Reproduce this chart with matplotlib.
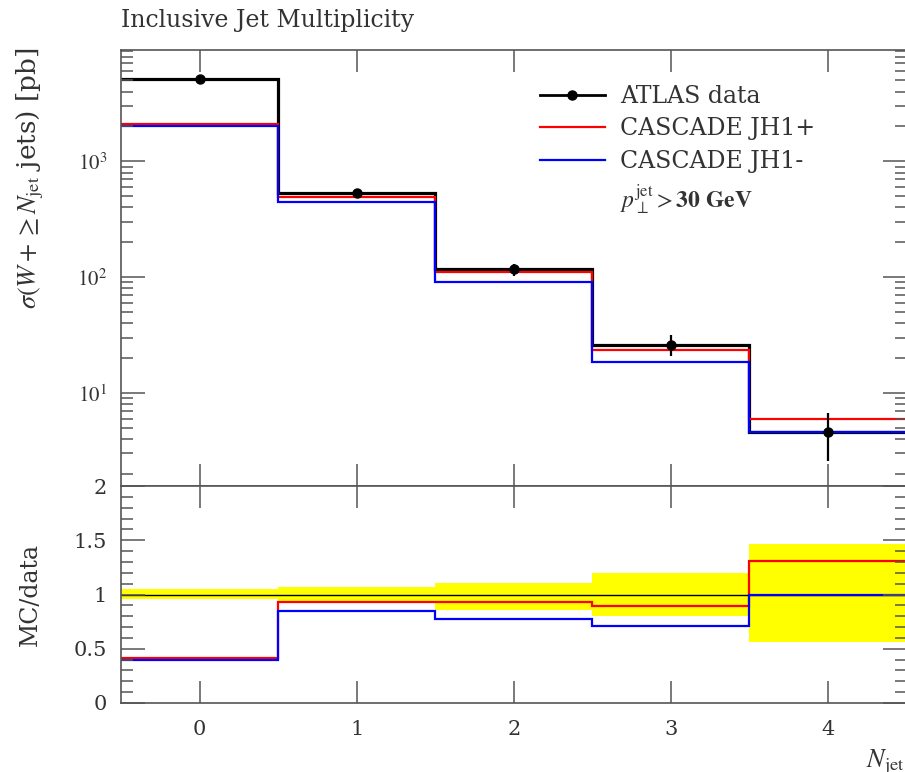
import numpy as np
import matplotlib
matplotlib.use('Agg')
import matplotlib.pyplot as plt
from matplotlib.lines import Line2D
from matplotlib.ticker import FixedLocator, MultipleLocator, LogLocator, NullFormatter

plt.rcParams['font.family'] = ['DejaVu Serif']
plt.rcParams['mathtext.fontset'] = 'stix'

# Inclusive W + >= N jets cross sections [pb]
n_jet = [0, 1, 2, 3, 4]
bin_edges = [-0.5, 0.5, 1.5, 2.5, 3.5, 4.5]
atlas_data = np.array([5130.0, 528.0, 118.0, 26.1, 4.59])
err_up = np.array([0.055, 0.07, 0.11, 0.20, 0.47])     # relative
err_down = np.array([0.045, 0.07, 0.14, 0.20, 0.435])  # relative
jh1_plus = np.array([2110.0, 490.0, 110.0, 23.4, 5.99])
jh1_minus = np.array([2010.0, 447.0, 91.0, 18.6, 4.59])

grey = '#555555'
txt = '#333333'
W, H = 905, 772
fig = plt.figure(figsize=(W / 100, H / 100), dpi=100)
left, right = 121 / W, 906.5 / W
ax = fig.add_axes([left, 1 - 486 / H, right - left, (486 - 50) / H])
rax = fig.add_axes([left, 1 - 703 / H, right - left, (703 - 486) / H])

# main panel
ax.stairs(atlas_data, bin_edges, baseline=None, color='black', lw=2.3)
ax.stairs(jh1_plus, bin_edges, baseline=None, color='#ff0000', lw=1.6)
ax.stairs(jh1_minus, bin_edges, baseline=None, color='#0000ff', lw=1.6)
ax.errorbar(n_jet, atlas_data,
            yerr=[atlas_data * err_down, atlas_data * err_up],
            fmt='o', color='black', ms=6.5, elinewidth=1.6, capsize=0)
ax.set_yscale('log')
ax.set_ylim(1.57, 9140)
ax.set_xlim(-0.5, 4.5)
ax.yaxis.set_major_locator(FixedLocator([10, 100, 1000]))
ax.set_yticklabels([r'$10^{1}$', r'$10^{2}$', r'$10^{3}$'])
ax.yaxis.set_minor_locator(LogLocator(base=10, subs=np.arange(2, 10)))
ax.yaxis.set_minor_formatter(NullFormatter())
ax.set_xticks(n_jet)
ax.set_xticklabels([])

handles = [Line2D([], [], color='black', lw=2.0, marker='o', ms=6.5),
           Line2D([], [], color='#ff0000', lw=1.6),
           Line2D([], [], color='#0000ff', lw=1.6),
           Line2D([], [], lw=0)]
labels = ['ATLAS data', 'CASCADE JH1+', 'CASCADE JH1-',
          r'$p_\perp^{\rm jet} > \mathbf{30\ GeV}$']
leg = ax.legend(handles, labels, loc='upper left', bbox_to_anchor=(0.533, 0.92),
                frameon=False, fontsize=17, handlelength=2.75, handletextpad=0.65,
                labelspacing=0.4, borderaxespad=0, borderpad=0)
for t in leg.get_texts():
    t.set_color(txt)

# ratio panel
band_lo = 1 - err_down
band_hi = 1 + err_up
rax.stairs(band_hi, bin_edges, baseline=band_lo, fill=True, color='#ffff00', lw=0)
rax.stairs(atlas_data / atlas_data, bin_edges, baseline=None, color='black', lw=1.0)
rax.stairs(jh1_plus / atlas_data, bin_edges, baseline=None, color='#ff0000', lw=1.6)
rax.stairs(jh1_minus / atlas_data, bin_edges, baseline=None, color='#0000ff', lw=1.6)
rax.set_xlim(-0.5, 4.5)
rax.set_ylim(0, 2)
rax.yaxis.set_major_locator(FixedLocator([0, 0.5, 1, 1.5, 2]))
rax.set_yticklabels(['0', '0.5', '1', '1.5', '2'])
rax.yaxis.set_minor_locator(MultipleLocator(0.1))
rax.set_xticks(n_jet)
rax.set_xticklabels([str(n) for n in n_jet])

for a in (ax, rax):
    for s in a.spines.values():
        s.set_color(grey)
        s.set_linewidth(1.2)
    a.tick_params(which='both', direction='in', top=True, right=True,
                  color=grey, width=1.1, labelsize=15, labelcolor=txt)
    a.tick_params(axis='y', which='major', length=17, pad=10)
    a.tick_params(axis='y', which='minor', length=8.5)
    a.tick_params(axis='x', which='major', length=16, pad=12)
    a.tick_params(axis='x', which='minor', length=0)

fig.text(121 / W, 1 - 27 / H, 'Inclusive Jet Multiplicity', fontsize=17,
         color=txt, ha='left', va='baseline')
fig.text(30 / W, 1 - 178 / H, r'$\sigma(W+\geq N_{\rm jet}$ jets) [pb]',
         fontsize=19, color=txt, rotation=90, ha='center', va='center')
fig.text(30 / W, 1 - 595 / H, 'MC/data', fontsize=17, color=txt,
         rotation=90, ha='center', va='center')
fig.text(866 / W, 1 - 762 / H, r'$N_{\rm jet}$', fontsize=19, color=txt,
         ha='left', va='center')

fig.savefig('out.png', dpi=100)
